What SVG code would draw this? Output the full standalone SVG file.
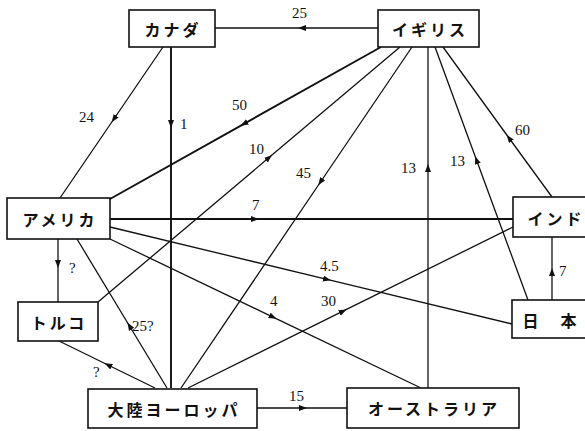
<svg xmlns="http://www.w3.org/2000/svg" width="585" height="431" viewBox="0 0 585 431">
<style>
.c{fill:none;stroke:#111;stroke-width:1.3;marker-mid:url(#ah)}
.t{stroke-width:1.9}
.n rect{fill:#fff;stroke:#111;stroke-width:1.6}
.n text{font-family:"Noto Sans CJK JP","Noto Sans",sans-serif;font-weight:bold;font-size:16px;fill:#111;text-anchor:middle;dominant-baseline:central;letter-spacing:3px}
.l{font-family:"Liberation Serif",serif;font-size:15px;fill:#111}
</style>
<defs>
<marker id="ah" markerUnits="userSpaceOnUse" markerWidth="10" markerHeight="8" refX="4" refY="3" orient="auto">
<path d="M0,0 L8,3 L0,6 z" fill="#111"/>
</marker>
</defs>
<g id="connectors">
<path class="c" d="M378,28 L302,28 L215,28"/>
<path class="c" d="M163,47 L113.9,119 L60,198"/>
<path class="c t" d="M171,47 L171,124 L171,388"/>
<path class="c t" d="M381,47 L244,123.8 L110,199"/>
<path class="c" d="M98,302 L269,157.6 L400,47"/>
<path class="c" d="M412,47 L320.5,182 L181,388"/>
<path class="c" d="M428,388 L428,168 L428,47"/>
<path class="c" d="M528,300 L476.5,160 L435,47"/>
<path class="c" d="M552,197 L509,138 L443,47"/>
<path class="c t" d="M110,219 L255,219 L513,219"/>
<path class="c" d="M110,227 L327,279.4 L512,324"/>
<path class="c" d="M110,239 L273,317.1 L421,388"/>
<path class="c" d="M188,388 L343,311.2 L513,227"/>
<path class="c" d="M552,300 L552,272 L552,237"/>
<path class="c" d="M257,408 L303,408 L347,408"/>
<path class="c" d="M58,239 L58,264 L58,302"/>
<path class="c" d="M155,388 L108,365 L59,341"/>
<path class="c" d="M167,388 L129.5,326 L77,239"/>
</g>
<g id="labels">
<text class="l" x="292" y="18">25</text>
<text class="l" x="79" y="122">24</text>
<text class="l" x="180" y="129">1</text>
<text class="l" x="232" y="110">50</text>
<text class="l" x="249" y="154">10</text>
<text class="l" x="296" y="178">45</text>
<text class="l" x="401" y="173">13</text>
<text class="l" x="450" y="166">13</text>
<text class="l" x="515" y="135">60</text>
<text class="l" x="252" y="210">7</text>
<text class="l" x="320" y="271">4.5</text>
<text class="l" x="321" y="306">30</text>
<text class="l" x="270" y="306">4</text>
<text class="l" x="132" y="331">25?</text>
<text class="l" x="69" y="273">?</text>
<text class="l" x="93" y="377">?</text>
<text class="l" x="289" y="401">15</text>
<text class="l" x="559" y="276">7</text>
</g>
<g id="canada" class="n"><rect x="129" y="10" width="86" height="37"/><text x="173" y="28.5">カナダ</text></g>
<g id="uk" class="n"><rect x="378" y="10" width="101" height="37"/><text x="430" y="28.5">イギリス</text></g>
<g id="usa" class="n"><rect x="7" y="198" width="103" height="41"/><text x="60" y="218.5">アメリカ</text></g>
<g id="turkey" class="n"><rect x="18" y="302" width="80" height="39"/><text x="59" y="321.5">トルコ</text></g>
<g id="india" class="n"><rect x="513" y="197" width="85" height="40"/><text x="556" y="217.5">インド</text></g>
<g id="japan" class="n"><rect x="512" y="300" width="86" height="38"/><text x="551" y="319.5">日　本</text></g>
<g id="europe" class="n"><rect x="88" y="389" width="169" height="39"/><text x="174" y="408.5">大陸ヨーロッパ</text></g>
<g id="australia" class="n"><rect x="347" y="388" width="172" height="40"/><text x="434" y="408">オーストラリア</text></g>
</svg>
